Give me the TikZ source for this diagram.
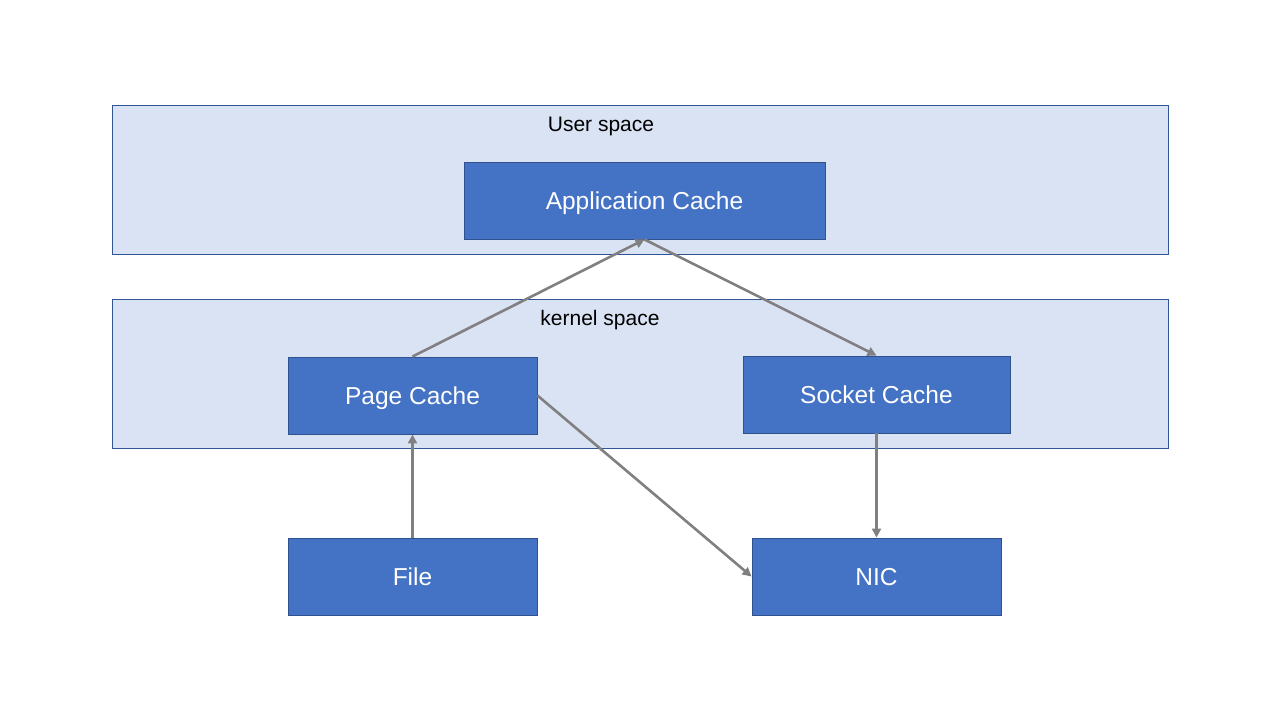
\documentclass[tikz,border=0pt]{standalone}
\usepackage{fontspec}
\setmainfont{Liberation Sans}
\usetikzlibrary{arrows.meta}
\definecolor{spacefill}{HTML}{DAE3F3}
\definecolor{spaceline}{HTML}{2F5597}
\definecolor{boxfill}{HTML}{4472C4}
\definecolor{boxline}{HTML}{2F528F}
\definecolor{linkgray}{HTML}{808080}
\begin{document}
\begin{tikzpicture}[x=1pt,y=-1pt,
  spacebox/.style={draw=spaceline,fill=spacefill,line width=0.9pt},
  cachebox/.style={draw=boxline,fill=boxfill,line width=0.9pt,text=white,
    font=\fontsize{24.5}{28}\selectfont,text height=17.5pt,text depth=0pt},
  spacelabel/.style={font=\fontsize{21}{24}\selectfont,text=black,
    text height=15pt,text depth=0pt},
  link/.style={draw=linkgray,line width=2.6pt,
    -{Triangle[length=9pt,width=9pt]}}]
\useasboundingbox (0,0) rectangle (1280,720);
\fill[white] (0,0) rectangle (1280,720);
% address spaces
\draw[spacebox] (112,105) rectangle (1168,254);
\draw[spacebox] (112,299) rectangle (1168,448);
\node[spacelabel] (userlbl) at (601,124) {User space};
\node[spacelabel] (kernlbl) at (600,318) {kernel space};
% caches and devices
\node[cachebox,minimum width=361pt,minimum height=77pt] (app) at (644.5,200.5) {Application Cache};
\node[cachebox,minimum width=249pt,minimum height=77pt] (page) at (412.5,395.5) {Page Cache};
\node[cachebox,minimum width=267pt,minimum height=77pt] (sock) at (876.5,394.5) {Socket Cache};
\node[cachebox,minimum width=249pt,minimum height=77pt] (file) at (412.5,576.5) {File};
\node[cachebox,minimum width=249pt,minimum height=77pt] (nic) at (876.5,576.5) {NIC};
% data paths
\draw[link] (page.north) -- (app.south);
\draw[link] (app.south) -- (sock.north);
\draw[link] (file.north) -- (page.south);
\draw[link] (sock.south) -- (nic.north);
\draw[link] (page.east) -- (nic.west);
\end{tikzpicture}
\end{document}
